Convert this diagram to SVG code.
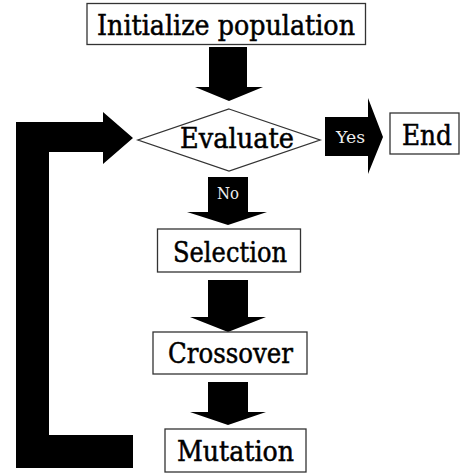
<svg xmlns="http://www.w3.org/2000/svg" width="460" height="474" viewBox="0 0 460 474">
<style>
.box{fill:#fff;stroke:#333;stroke-width:1.3}
.lbl{font-family:"DejaVu Serif","Liberation Serif",serif;font-size:27px;fill:#000;stroke:#000;stroke-width:0.5}
.small{font-family:"DejaVu Serif","Liberation Serif",serif;font-size:16px;fill:#eee}
.arr{fill:#000}
</style>
<rect width="460" height="474" fill="#fff"/>
<g id="connectors">
<polygon class="arr" points="209,47 247,47 247,87 263,87 229,101 195,87 209,87"/>
<polygon class="arr" points="208,177 248,177 248,212 267,212 228,225 187,212 208,212"/>
<polygon class="arr" points="208,280 248,280 248,317 266,317 228,332 190,317 208,317"/>
<polygon class="arr" points="208,382 248,382 248,412 266,412 228,425 190,412 208,412"/>
<polygon class="arr" points="325,117 368,117 368,98 383,137 368,174 368,156 325,156"/>
<polygon class="arr" points="16,122 103,122 103,112 133,138 103,164 103,152 49,152 49,435 133,435 133,468 16,468"/>
<text class="small" x="350.5" y="143" text-anchor="middle" textLength="29" lengthAdjust="spacingAndGlyphs">Yes</text>
<text class="small" x="228" y="199" text-anchor="middle" textLength="22" lengthAdjust="spacingAndGlyphs">No</text>
</g>
<g id="init">
<rect class="box" x="87" y="3.5" width="278.5" height="41"/>
<text class="lbl" x="226" y="35" text-anchor="middle" textLength="258" lengthAdjust="spacingAndGlyphs">Initialize population</text>
</g>
<g id="evaluate">
<polygon class="box" points="229,109 320,140 229,171 138,140"/>
<text class="lbl" x="237" y="148" text-anchor="middle" textLength="114" lengthAdjust="spacingAndGlyphs">Evaluate</text>
</g>
<g id="end">
<rect class="box" x="390" y="113" width="69" height="41"/>
<text class="lbl" x="427" y="145" text-anchor="middle" textLength="50" lengthAdjust="spacingAndGlyphs">End</text>
</g>
<g id="selection">
<rect class="box" x="157.5" y="229" width="143" height="43"/>
<text class="lbl" x="230" y="262" text-anchor="middle" textLength="114" lengthAdjust="spacingAndGlyphs">Selection</text>
</g>
<g id="crossover">
<rect class="box" x="153" y="332" width="154" height="42"/>
<text class="lbl" x="230.5" y="363" text-anchor="middle" textLength="125" lengthAdjust="spacingAndGlyphs">Crossover</text>
</g>
<g id="mutation">
<rect class="box" x="165" y="429" width="141" height="43"/>
<text class="lbl" x="235.5" y="461" text-anchor="middle" textLength="117" lengthAdjust="spacingAndGlyphs">Mutation</text>
</g>
</svg>
